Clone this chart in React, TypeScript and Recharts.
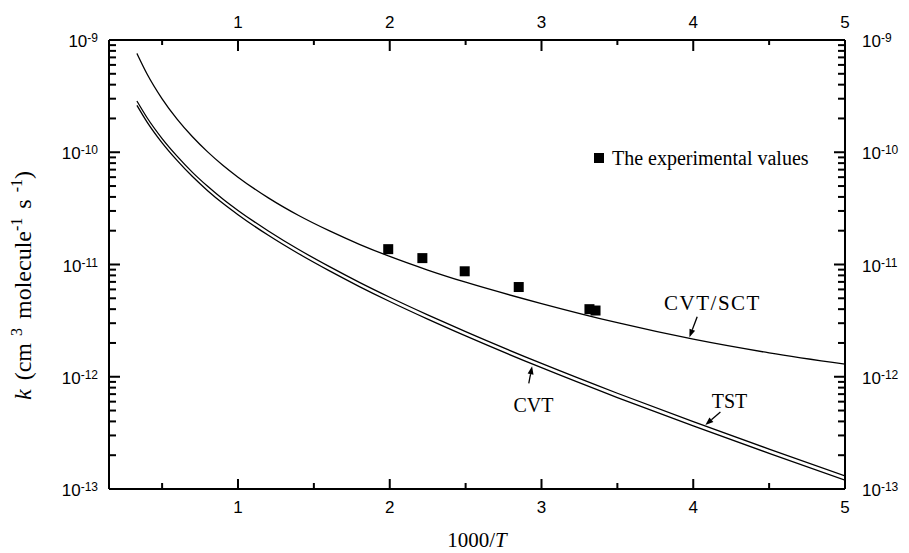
import React from 'react';
import {
  ComposedChart,
  Line,
  Scatter,
  XAxis,
  YAxis,
  Legend,
  ReferenceLine,
  ReferenceDot,
} from 'recharts';

// 1000/T grid and rate constants (cm3 molecule-1 s-1)
const SCT_X = [0.334, 0.4, 0.5, 0.6, 0.7, 0.8, 0.9, 1.0, 1.2, 1.4, 1.6, 1.8, 2.0, 2.25, 2.5, 3.0, 3.5, 4.0, 4.5, 5.0];
const SCT_K = [7.6e-10, 5.01e-10, 2.995e-10, 1.963e-10, 1.374e-10, 1.008e-10, 7.66e-11, 6.0e-11, 3.92e-11, 2.73e-11, 2.0e-11, 1.514e-11, 1.18e-11, 8.93e-12, 6.95e-12, 4.49e-12, 3.03e-12, 2.16e-12, 1.633e-12, 1.294e-12];

const TST_X = [0.334, 0.4, 0.5, 0.6, 0.7, 0.8, 0.9, 1.0, 1.2, 1.4, 1.6, 1.8, 2.0, 2.25, 2.5, 3.0, 3.5, 4.0, 4.5, 5.0];
const TST_K = [2.86e-10, 2.04e-10, 1.325e-10, 9.19e-11, 6.62e-11, 4.97e-11, 3.83e-11, 3.03e-11, 1.99e-11, 1.36e-11, 9.62e-12, 6.94e-12, 5.11e-12, 3.56e-12, 2.52e-12, 1.314e-12, 7.13e-13, 3.98e-13, 2.27e-13, 1.31e-13];

const CVT_X = [0.334, 0.4, 0.5, 0.6, 0.7, 0.8, 0.9, 1.0, 1.2, 1.4, 1.6, 1.8, 2.0, 2.25, 2.5, 3.0, 3.5, 4.0, 4.5, 5.0];
const CVT_K = [2.62e-10, 1.868e-10, 1.214e-10, 8.42e-11, 6.07e-11, 4.55e-11, 3.51e-11, 2.78e-11, 1.82e-11, 1.246e-11, 8.81e-12, 6.36e-12, 4.68e-12, 3.26e-12, 2.31e-12, 1.204e-12, 6.53e-13, 3.65e-13, 2.08e-13, 1.2e-13];

const EXP_X = [1.99, 2.215, 2.494, 2.85, 3.316, 3.356];
const EXP_K = [1.37e-11, 1.14e-11, 8.7e-12, 6.3e-12, 4.0e-12, 3.89e-12];

const X_DOMAIN = [0.15, 5];
const X_TICKS = [0.5, 1, 1.5, 2, 2.5, 3, 3.5, 4, 4.5, 5];
const Y_DECADES = [-13, -12, -11, -10, -9];

const Y_TICKS: number[] = [];
Y_DECADES.forEach((d, i) => {
  Y_TICKS.push(Math.pow(10, d));
  if (i < Y_DECADES.length - 1) {
    for (let m = 2; m <= 9; m++) Y_TICKS.push(m * Math.pow(10, d));
  }
});

const toPoints = (xs: number[], ks: number[]) => xs.map((x, i) => ({ x, k: ks[i] }));
const sctData = toPoints(SCT_X, SCT_K);
const tstData = toPoints(TST_X, TST_K);
const cvtData = toPoints(CVT_X, CVT_K);
const expData = toPoints(EXP_X, EXP_K);

const SANS = '"Liberation Sans", Arial, sans-serif';
const SERIF = '"Liberation Serif", "Times New Roman", serif';
const TICK_W = 2;
const TICK_C = '#000';

const isMajorY = (v: number) => Math.abs(Math.log10(v) - Math.round(Math.log10(v))) < 1e-6;
const isMajorX = (v: number) => Math.abs(v - Math.round(v)) < 1e-6;

const PowerLabel = ({ x, y, anchor, exp }: any) => (
  <text x={x} y={y} dy={7} textAnchor={anchor} fontFamily={SANS} fontSize={17} fill="#000">
    10
    <tspan dy={-5} fontSize={12}>{exp}</tspan>
  </text>
);

const LeftTick = ({ x, y, payload }: any) =>
  isMajorY(payload.value) ? (
    <PowerLabel x={x - 11} y={y} anchor="end" exp={Math.round(Math.log10(payload.value))} />
  ) : (
    <g />
  );

const RightTick = ({ x, y, payload }: any) =>
  isMajorY(payload.value) ? (
    <PowerLabel x={x + 17} y={y} anchor="start" exp={Math.round(Math.log10(payload.value))} />
  ) : (
    <g />
  );

const BottomTick = ({ x, y, payload }: any) =>
  isMajorX(payload.value) ? (
    <text x={x} y={y + 24} textAnchor="middle" fontFamily={SANS} fontSize={17} fill="#000">
      {payload.value}
    </text>
  ) : (
    <g />
  );

const TopTick = ({ x, y, payload }: any) =>
  isMajorX(payload.value) ? (
    <text x={x} y={y - 12} textAnchor="middle" fontFamily={SANS} fontSize={17} fill="#000">
      {payload.value}
    </text>
  ) : (
    <g />
  );

// inward tick marks on all four sides of the frame, placed through the plot scales
const yTickMarks = (major: boolean) => (p: any) => {
  const left = Math.min(p.x1, p.x2);
  const right = Math.max(p.x1, p.x2);
  const len = major ? 11 : 7;
  return (
    <g>
      <rect x={left} y={p.y1 - TICK_W / 2} width={len} height={TICK_W} fill={TICK_C} />
      <rect x={right - len} y={p.y1 - TICK_W / 2} width={len} height={TICK_W} fill={TICK_C} />
    </g>
  );
};

const xTickMarks = (major: boolean) => (p: any) => {
  const top = Math.min(p.y1, p.y2);
  const bottom = Math.max(p.y1, p.y2);
  const lenB = major ? 10 : 6;
  const lenT = major ? 11 : 5;
  return (
    <g>
      <rect x={p.x1 - TICK_W / 2} y={bottom - lenB} width={TICK_W} height={lenB} fill={TICK_C} />
      <rect x={p.x1 - TICK_W / 2} y={top} width={TICK_W} height={lenT} fill={TICK_C} />
    </g>
  );
};

const Square = (p: any) => <rect x={p.cx - 5} y={p.cy - 5} width={10} height={10} fill="#000" />;

const Arrow = (p: any) => {
  const { x1, y1, x2, y2 } = p;
  const a = Math.atan2(y2 - y1, x2 - x1);
  const len = 8;
  const w = 3;
  const bx = x2 - len * Math.cos(a);
  const by = y2 - len * Math.sin(a);
  const pts = `${x2},${y2} ${bx + w * Math.sin(a)},${by - w * Math.cos(a)} ${bx - w * Math.sin(a)},${by + w * Math.cos(a)}`;
  return (
    <g>
      <line x1={x1} y1={y1} x2={bx} y2={by} stroke="#000" strokeWidth={1.3} />
      <polygon points={pts} fill="#000" />
    </g>
  );
};

const textShape = (label: string, extra: any = {}) => (p: any) => (
  <text
    x={p.cx}
    y={p.cy}
    textAnchor="middle"
    dominantBaseline="central"
    fontFamily={SERIF}
    fontSize={20}
    fill="#000"
    {...extra}
  >
    {label}
  </text>
);

const YTitle = (props: any) => {
  const vb = props.viewBox || { x: 0, y: 32, width: 101, height: 449 };
  const cx = vb.x + 23;
  const cy = vb.y + vb.height / 2 + 21;
  return (
    <text
      transform={`translate(${cx},${cy}) rotate(-90)`}
      textAnchor="middle"
      fontFamily={SERIF}
      fontSize={24}
      wordSpacing={3}
      fill="#000"
    >
      <tspan fontStyle="italic">k</tspan>
      <tspan> (cm</tspan>
      <tspan dy={-9} fontSize={16}> 3</tspan>
      <tspan dy={9}> molecule</tspan>
      <tspan dy={-9} fontSize={16}>-1</tspan>
      <tspan dy={9}> s</tspan>
      <tspan dy={-9} fontSize={16}> -1</tspan>
      <tspan dy={9}>)</tspan>
    </text>
  );
};

const XTitle = (props: any) => {
  const vb = props.viewBox || { x: 101, y: 481, width: 736, height: 64 };
  return (
    <text x={vb.x + vb.width / 2} y={vb.y + 58} textAnchor="middle" fontFamily={SERIF} fontSize={21} fill="#000">
      1000/<tspan fontStyle="italic">T</tspan>
    </text>
  );
};

const LegendBox = () => (
  <div style={{ display: 'flex', alignItems: 'center', height: 22, fontFamily: SERIF, fontSize: 20, color: '#000', whiteSpace: 'nowrap' }}>
    <span style={{ display: 'inline-block', width: 10, height: 10, background: '#000', marginRight: 8 }} />
    The experimental values
  </div>
);

const axisLine = { stroke: '#000', strokeWidth: 2 };

export default function App() {
  return (
    <div style={{ width: 901, height: 545, background: '#fff' }}>
      <ComposedChart width={901} height={545} margin={{ top: 0, right: 0, bottom: 0, left: 0 }}>
        <XAxis
          dataKey="x"
          type="number"
          domain={X_DOMAIN}
          ticks={X_TICKS}
          interval={0}
          height={64}
          tickSize={0}
          tickMargin={0}
          tickLine={false}
          axisLine={axisLine}
          tick={<BottomTick />}
          label={{ content: XTitle }}
          allowDataOverflow
        />
        <XAxis
          xAxisId="top"
          orientation="top"
          dataKey="x"
          type="number"
          domain={X_DOMAIN}
          ticks={X_TICKS}
          interval={0}
          height={32}
          tickSize={0}
          tickMargin={0}
          tickLine={false}
          axisLine={axisLine}
          tick={<TopTick />}
          allowDataOverflow
        />
        <YAxis
          dataKey="k"
          type="number"
          scale="log"
          domain={[1e-13, 1e-9]}
          ticks={Y_TICKS}
          interval={0}
          width={101}
          tickSize={0}
          tickMargin={0}
          tickLine={false}
          axisLine={axisLine}
          tick={<LeftTick />}
          label={{ content: YTitle }}
          allowDataOverflow
        />
        <YAxis
          yAxisId="right"
          orientation="right"
          dataKey="k"
          type="number"
          scale="log"
          domain={[1e-13, 1e-9]}
          ticks={Y_TICKS}
          interval={0}
          width={64}
          tickSize={0}
          tickMargin={0}
          tickLine={false}
          axisLine={axisLine}
          tick={<RightTick />}
          allowDataOverflow
        />

        {Y_TICKS.map((v) => (
          <ReferenceLine key={`yt-${v}`} y={v} ifOverflow="extendDomain" shape={yTickMarks(isMajorY(v))} />
        ))}
        {X_TICKS.map((v) => (
          <ReferenceLine key={`xt-${v}`} x={v} ifOverflow="extendDomain" shape={xTickMarks(isMajorX(v))} />
        ))}

        <Line data={sctData} dataKey="k" name="CVT/SCT" type="monotone" dot={false} stroke="#000" strokeWidth={1.3} isAnimationActive={false} legendType="none" />
        <Line data={tstData} dataKey="k" name="TST" type="monotone" dot={false} stroke="#000" strokeWidth={1.3} isAnimationActive={false} legendType="none" />
        <Line data={cvtData} dataKey="k" name="CVT" type="monotone" dot={false} stroke="#000" strokeWidth={1.3} isAnimationActive={false} legendType="none" />
        <Scatter data={expData} dataKey="k" name="The experimental values" shape={Square} isAnimationActive={false} />

        <ReferenceDot x={4.127} y={4.53e-12} r={0} shape={textShape('CVT/SCT', { fontSize: 21, letterSpacing: 1.5 })} />
        <ReferenceLine segment={[{ x: 4.026, y: 3.42e-12 }, { x: 3.975, y: 2.25e-12 }]} shape={Arrow} />
        <ReferenceDot x={2.947} y={5.58e-13} r={0} shape={textShape('CVT')} />
        <ReferenceLine segment={[{ x: 2.916, y: 8.71e-13 }, { x: 2.938, y: 1.24e-12 }]} shape={Arrow} />
        <ReferenceDot x={4.239} y={6.07e-13} r={0} shape={textShape('TST')} />
        <ReferenceLine segment={[{ x: 4.179, y: 4.86e-13 }, { x: 4.08, y: 3.71e-13 }]} shape={Arrow} />

        <Legend
          layout="horizontal"
          verticalAlign="middle"
          align="center"
          content={LegendBox}
          wrapperStyle={{ top: 139, left: 586, width: 'auto', height: 22 }}
        />
      </ComposedChart>
    </div>
  );
}
